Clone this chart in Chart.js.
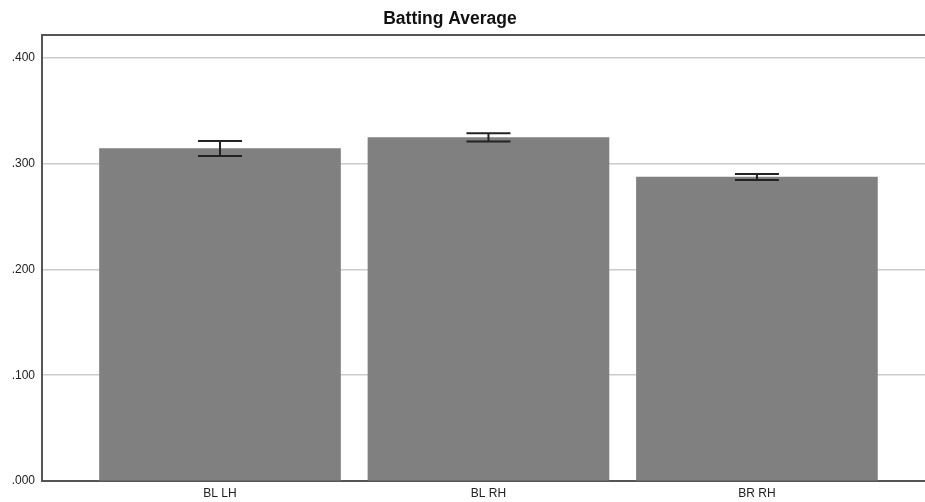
<!DOCTYPE html>
<html>
<head>
<meta charset="utf-8">
<script src="https://cdn.jsdelivr.net/npm/chart.js@4.4.1/dist/chart.umd.min.js"></script>
<style>
  html, body { margin: 0; padding: 0; background: #fff; }
  #wrap { width: 925px; height: 502px; }
</style>
</head>
<body>
<div id="wrap"><canvas id="avgChart"></canvas></div>
<script>
// batting average by bats/throws group, with 95% CI whiskers
const groups = ['BL LH', 'BL RH', 'BR RH'];
const means = [0.3144, 0.3248, 0.2874];
const ciLow = [0.3073, 0.3209, 0.2846];
const ciHigh = [0.3215, 0.3288, 0.2903];
const yTicks = [0, 0.1, 0.2, 0.3, 0.4];

const AXIS_COLOR = '#555555';
const GRID_COLOR = '#cccccc';
const FONT = 'Arial, "Liberation Sans", sans-serif';

// title + top frame line (title sits a bit left of the canvas centre)
const frame = {
  id: 'frame',
  afterDraw(chart) {
    const { ctx, chartArea } = chart;
    ctx.save();
    ctx.strokeStyle = AXIS_COLOR;
    ctx.lineWidth = 2;
    ctx.beginPath();
    ctx.moveTo(chartArea.left - 1, chartArea.top);
    ctx.lineTo(chartArea.right, chartArea.top);
    ctx.stroke();
    ctx.fillStyle = '#111';
    ctx.font = 'bold 17.5px ' + FONT;
    ctx.textAlign = 'center';
    ctx.textBaseline = 'middle';
    ctx.fillText('Batting Average', 450, 19);
    ctx.restore();
  }
};

// confidence interval whiskers drawn on top of each bar
const errorBars = {
  id: 'errorBars',
  afterDatasetsDraw(chart) {
    const { ctx } = chart;
    const meta = chart.getDatasetMeta(0);
    const y = chart.scales.y;
    ctx.save();
    ctx.strokeStyle = '#222';
    ctx.lineWidth = 2;
    meta.data.forEach((bar, i) => {
      const top = y.getPixelForValue(ciHigh[i]);
      const bot = y.getPixelForValue(ciLow[i]);
      const half = 22;
      ctx.beginPath();
      ctx.moveTo(bar.x - half, top); ctx.lineTo(bar.x + half, top);
      ctx.moveTo(bar.x - half, bot); ctx.lineTo(bar.x + half, bot);
      ctx.moveTo(bar.x, top); ctx.lineTo(bar.x, bot);
      ctx.stroke();
    });
    ctx.restore();
  }
};

new Chart(document.getElementById('avgChart'), {
  type: 'bar',
  data: {
    datasets: [{
      data: means.map((v, i) => ({ x: i, y: v })),
      backgroundColor: '#808080',
      borderWidth: 0,
      barThickness: 241
    }]
  },
  options: {
    responsive: true,
    maintainAspectRatio: false,
    animation: false,
    layout: { padding: { top: 35, right: 0, left: 0, bottom: 0 } },
    plugins: { legend: { display: false }, tooltip: { enabled: false }, title: { display: false } },
    scales: {
      x: {
        type: 'linear',
        offset: false,
        min: -0.663,
        max: 2.626,
        afterBuildTicks(s) { s.ticks = groups.map((_, i) => ({ value: i })); },
        afterFit(s) { s.height = 21; },
        grid: { display: false, drawTicks: false, offset: false },
        border: { display: true, color: AXIS_COLOR, width: 2 },
        ticks: {
          autoSkip: false,
          maxRotation: 0,
          padding: 5,
          color: '#222',
          font: { family: FONT, size: 12 },
          callback: v => groups[v] ?? ''
        }
      },
      y: {
        min: 0,
        max: 0.4217,
        afterBuildTicks(s) { s.ticks = yTicks.map(v => ({ value: v })); },
        afterFit(s) { s.width = 42; },
        grid: { color: GRID_COLOR, lineWidth: 1.5, drawTicks: false },
        border: { display: true, color: AXIS_COLOR, width: 2 },
        ticks: {
          padding: 7,
          color: '#222',
          font: { family: FONT, size: 12 },
          callback: v => v.toFixed(3).replace(/^0/, '')
        }
      }
    }
  },
  plugins: [frame, errorBars]
});
</script>
</body>
</html>
